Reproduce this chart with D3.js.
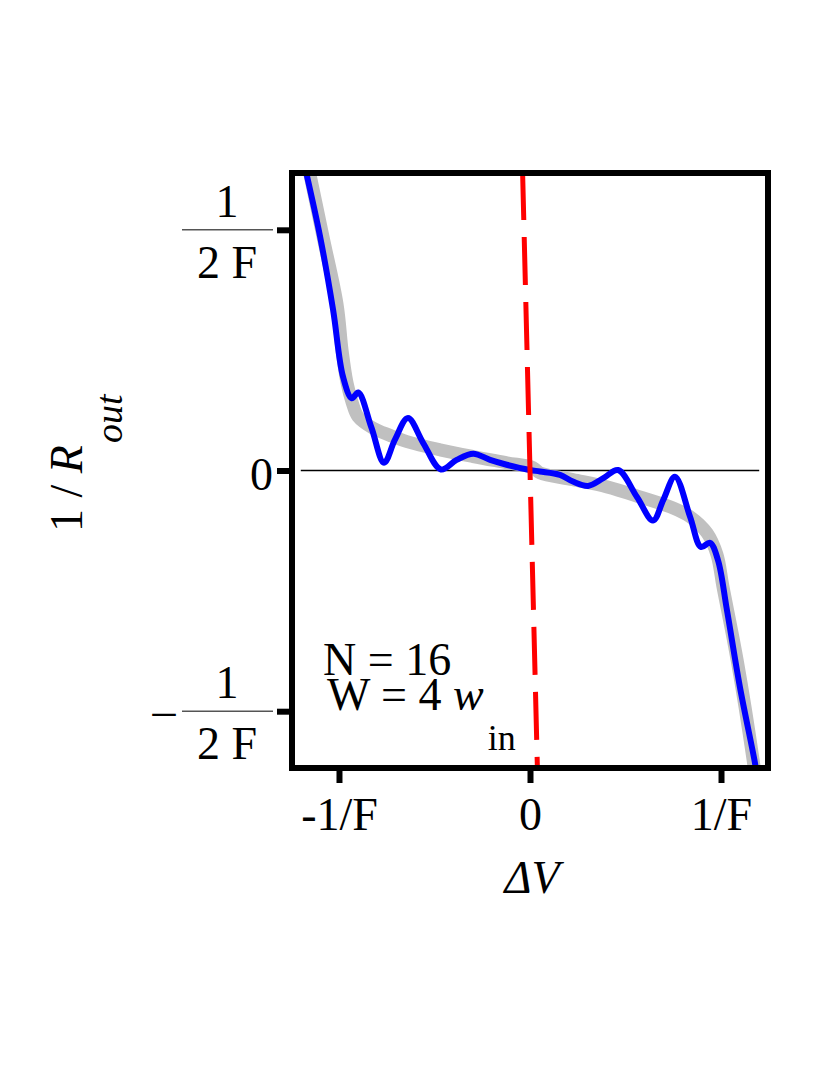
<!DOCTYPE html>
<html>
<head>
<meta charset="utf-8">
<script src="https://cdn.jsdelivr.net/npm/d3@7"></script>
<style>
  body { margin: 0; background: #fff; }
  text { font-family: "Liberation Serif", "Times New Roman", serif; fill: #000; }
</style>
</head>
<body>
<script>
// x in units of 1/F, y in units of 1/F (so 1/(2F) = 0.5)
var xTicks = [-1, 0, 1];
var xTickLabels = ["-1/F", "0", "1/F"];
var yTicks = [0.5, 0, -0.5];

// smooth (averaged) curve, gray
var grayX = [-1.16, -1.084, -1.010, -0.984, -0.958, -0.930, -0.901, -0.822, -0.733, -0.644, -0.471, -0.298, -0.120, 0.016,
             0.052, 0.225, 0.403, 0.576, 0.749, 0.838, 0.927, 0.979, 1.010, 1.084, 1.168, 1.176];
var grayY = [0.63, 0.486, 0.345, 0.25, 0.182, 0.140, 0.112, 0.088, 0.073, 0.060, 0.043, 0.029, 0.016, 0.006,
             -0.005, -0.019, -0.034, -0.055, -0.078, -0.096, -0.130, -0.175, -0.241, -0.393, -0.601, -0.625];

// oscillating curve, blue
var blueX = [-1.178, -1.099, -1.031, -0.979, -0.933, -0.899, -0.830, -0.764, -0.707, -0.639, -0.559, -0.466, -0.384, -0.297, -0.209, -0.122, 0,
             0.052, 0.157, 0.225, 0.304, 0.384, 0.461, 0.560, 0.644, 0.698, 0.759, 0.838, 0.895, 0.942, 0.984, 1.031, 1.099, 1.178, 1.186];
var blueY = [0.63, 0.486, 0.334, 0.195, 0.150, 0.162, 0.089, 0.016, 0.064, 0.109, 0.057, 0.002, 0.022, 0.035, 0.022, 0.012, 0.001,
             -0.002, -0.009, -0.023, -0.032, -0.016, 0.001, -0.055, -0.104, -0.061, -0.013, -0.096, -0.159, -0.150, -0.186, -0.290, -0.450, -0.608, -0.63];

// load line y = -N x, red dashed
var redX = [-0.0388, 0.0388];
var redY = [0.62, -0.62];

var width = 830, height = 1075;
var boxL = 292, boxR = 768, boxT = 173, boxB = 768;

var svg = d3.select("body").append("svg")
    .attr("width", width)
    .attr("height", height);

var x = d3.scaleLinear().domain([-1.246, 1.246]).range([boxL, boxR]);
var y = d3.scaleLinear().domain([-0.618, 0.618]).range([boxB, boxT]);

svg.append("clipPath").attr("id", "clip")
  .append("rect")
    .attr("x", boxL).attr("y", boxT)
    .attr("width", boxR - boxL).attr("height", boxB - boxT);

var plot = svg.append("g").attr("clip-path", "url(#clip)");

// zero line
plot.append("line")
    .attr("x1", x(-1.2)).attr("x2", x(1.2))
    .attr("y1", y(0)).attr("y2", y(0))
    .attr("stroke", "#000").attr("stroke-width", 1.5);

var line = d3.line()
    .x(function (d) { return x(d[0]); })
    .y(function (d) { return y(d[1]); })
    .curve(d3.curveCatmullRom.alpha(0.5));

plot.append("path")
    .datum(d3.zip(grayX, grayY))
    .attr("d", line)
    .attr("fill", "none")
    .attr("stroke", "#c0c0c0")
    .attr("stroke-width", 13);

plot.append("path")
    .datum(d3.zip(blueX, blueY))
    .attr("d", line)
    .attr("fill", "none")
    .attr("stroke", "#0000ff")
    .attr("stroke-width", 6);

plot.append("path")
    .datum(d3.zip(redX, redY))
    .attr("d", d3.line().x(function (d) { return x(d[0]); }).y(function (d) { return y(d[1]); }))
    .attr("fill", "none")
    .attr("stroke", "#ff0000")
    .attr("stroke-width", 5)
    .attr("stroke-dasharray", "48,17");

// axes
var xAxis = svg.append("g")
    .attr("transform", "translate(0," + boxB + ")")
    .call(d3.axisBottom(x).tickValues(xTicks).tickSize(15)
      .tickFormat(function (d, i) { return xTickLabels[i]; }));
xAxis.select(".domain").remove();
xAxis.selectAll(".tick line").attr("stroke", "#000").attr("stroke-width", 6);
xAxis.selectAll(".tick text")
    .attr("y", 62).attr("dy", 0)
    .style("font-size", "46px")
    .style("font-family", "Liberation Serif");

var yAxis = svg.append("g")
    .attr("transform", "translate(" + boxL + ",0)")
    .call(d3.axisLeft(y).tickValues(yTicks).tickSize(15).tickFormat(""));
yAxis.select(".domain").remove();
yAxis.selectAll(".tick line").attr("stroke", "#000").attr("stroke-width", 6);

// frame
svg.append("rect")
    .attr("x", boxL).attr("y", boxT)
    .attr("width", boxR - boxL).attr("height", boxB - boxT)
    .attr("fill", "none")
    .attr("stroke", "#000")
    .attr("stroke-width", 6);

// y tick labels as fractions
yTicks.forEach(function (v) {
  var ty = y(v);
  if (v === 0) {
    svg.append("text")
        .attr("x", 273).attr("y", ty + 19.5)
        .attr("text-anchor", "end")
        .style("font-size", "46px")
        .text("0");
    return;
  }
  svg.append("line")
      .attr("x1", 182).attr("x2", 273)
      .attr("y1", ty).attr("y2", ty)
      .attr("stroke", "#555").attr("stroke-width", 1.5);
  svg.append("text")
      .attr("x", 227).attr("y", ty - 13)
      .attr("text-anchor", "middle")
      .style("font-size", "46px")
      .text("1");
  svg.append("text")
      .attr("x", 227).attr("y", ty + 48)
      .attr("text-anchor", "middle")
      .style("font-size", "46px")
      .text("2 F");
  if (v < 0) {
    svg.append("text")
        .attr("x", 164).attr("y", ty + 15)
        .attr("text-anchor", "middle")
        .style("font-size", "46px")
        .text("\u2013");
  }
});

// x axis title
svg.append("text")
    .attr("x", 532).attr("y", 893)
    .attr("text-anchor", "middle")
    .style("font-size", "46px")
    .style("font-style", "italic")
    .text("\u0394V");

// y axis title
var yt = svg.append("text")
    .attr("transform", "translate(82,532) rotate(-90)")
    .style("font-size", "46px");
yt.append("tspan").text("1 / ");
yt.append("tspan").style("font-style", "italic").text("R");
yt.append("tspan").attr("dx", 2).attr("dy", 40).style("font-size", "38px").style("font-style", "italic").text("out");

// annotation
svg.append("text")
    .attr("x", 323).attr("y", 675)
    .style("font-size", "46px")
    .text("N = 16");
var w = svg.append("text")
    .attr("x", 327).attr("y", 710)
    .style("font-size", "46px");
w.append("tspan").text("W = 4 ");
w.append("tspan").style("font-style", "italic").text("w");
w.append("tspan").attr("dx", 4).attr("dy", 40).style("font-size", "36px").text("in");
</script>
</body>
</html>
